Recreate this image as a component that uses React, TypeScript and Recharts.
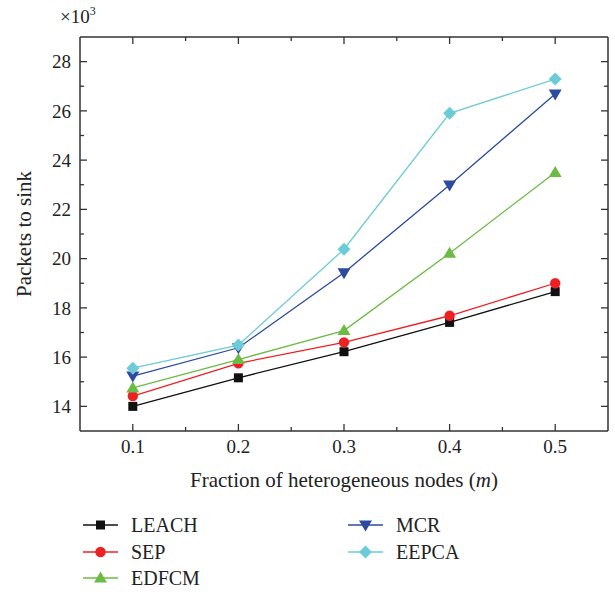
import { LineChart, Line, XAxis, YAxis, ReferenceLine } from "recharts";

// fraction of heterogeneous nodes (m)
const X_VALUES = [0.1, 0.2, 0.3, 0.4, 0.5];
// packets to sink, x10^3
const LEACH = [14.0, 15.16, 16.22, 17.41, 18.66];
const SEP = [14.42, 15.75, 16.6, 17.68, 19.0];
const EDFCM = [14.75, 15.9, 17.08, 20.22, 23.5];
const MCR = [15.23, 16.38, 19.43, 22.99, 26.69];
const EEPCA = [15.55, 16.49, 20.38, 25.9, 27.29];

const X_MAJOR = [0.1, 0.2, 0.3, 0.4, 0.5];
const X_MINOR = [0.15, 0.25, 0.35, 0.45];
const Y_MAJOR = [14, 16, 18, 20, 22, 24, 26, 28];
const Y_MINOR = [15, 17, 19, 21, 23, 25, 27];

const W = 615;
const H = 594;
// axes take 1px each, so plot box is x 80..608, y 37..431
const M = { top: 37, right: 7, bottom: 162, left: 79 };
const PLOT_TOP = M.top;
const PLOT_RIGHT = W - M.right;

const AXIS = "#333";
const FONT = '"Liberation Serif", "DejaVu Serif", serif';

const SERIES = [
  { key: "LEACH", values: LEACH, color: "#111111", shape: "square" },
  { key: "SEP", values: SEP, color: "#ed2024", shape: "circle" },
  { key: "EDFCM", values: EDFCM, color: "#6cbb45", shape: "up" },
  { key: "MCR", values: MCR, color: "#2c4a9e", shape: "down" },
  { key: "EEPCA", values: EEPCA, color: "#6ccbd7", shape: "diamond" },
];

const data = X_VALUES.map((x, i) => {
  const row: Record<string, number> = { x };
  SERIES.forEach((s) => (row[s.key] = s.values[i]));
  return row;
});

function Marker({ shape, cx, cy, color }: { shape: string; cx: number; cy: number; color: string }) {
  if (cx == null || cy == null) return null;
  switch (shape) {
    case "square":
      return <rect x={cx - 4.5} y={cy - 4.5} width={9} height={9} fill={color} />;
    case "circle":
      return <circle cx={cx} cy={cy} r={5.2} fill={color} />;
    case "up":
      return <polygon points={`${cx},${cy - 6.5} ${cx + 6.5},${cy + 4.5} ${cx - 6.5},${cy + 4.5}`} fill={color} />;
    case "down":
      return <polygon points={`${cx - 6.5},${cy - 4.5} ${cx + 6.5},${cy - 4.5} ${cx},${cy + 6.5}`} fill={color} />;
    default:
      return <polygon points={`${cx},${cy - 6.5} ${cx + 6.5},${cy} ${cx},${cy + 6.5} ${cx - 6.5},${cy}`} fill={color} />;
  }
}

function XTick({ x, y, payload }: any) {
  const major = X_MAJOR.includes(payload.value);
  const len = major ? 7 : 4;
  return (
    <g>
      <line x1={x} y1={y} x2={x} y2={y - len} stroke={AXIS} strokeWidth={1.3} />
      <line x1={x} y1={PLOT_TOP} x2={x} y2={PLOT_TOP + len} stroke={AXIS} strokeWidth={1.3} />
      {major && (
        <text x={x} y={y + 22} textAnchor="middle" fontFamily={FONT} fontSize={19} fill="#222">
          {payload.value.toFixed(1)}
        </text>
      )}
    </g>
  );
}

function YTick({ x, y, payload }: any) {
  const major = Y_MAJOR.includes(payload.value);
  const len = major ? 7 : 4;
  return (
    <g>
      <line x1={x} y1={y} x2={x + len} y2={y} stroke={AXIS} strokeWidth={1.3} />
      <line x1={PLOT_RIGHT} y1={y} x2={PLOT_RIGHT - len} y2={y} stroke={AXIS} strokeWidth={1.3} />
      {major && (
        <text x={x - 9} y={y} dy="0.35em" textAnchor="end" fontFamily={FONT} fontSize={19} fill="#222">
          {payload.value}
        </text>
      )}
    </g>
  );
}

function Legend() {
  const cols = [
    { x: 83, items: SERIES.slice(0, 3) },
    { x: 348, items: SERIES.slice(3) },
  ];
  const rows = [525, 552, 578];
  return (
    <g>
      {cols.map((c) =>
        c.items.map((s, i) => (
          <g key={s.key}>
            <line x1={c.x} y1={rows[i]} x2={c.x + 35} y2={rows[i]} stroke={s.color} strokeWidth={1.3} />
            <Marker shape={s.shape} cx={c.x + 17.5} cy={rows[i]} color={s.color} />
            <text x={c.x + 48} y={rows[i]} dy="0.35em" fontFamily={FONT} fontSize={20} fill="#222">
              {s.key}
            </text>
          </g>
        ))
      )}
    </g>
  );
}

export default function App() {
  return (
    <div style={{ position: "absolute", left: 0, top: 0, width: W, height: H, background: "#fff" }}>
      <LineChart width={W} height={H} data={data} margin={M}>
        <XAxis
          dataKey="x"
          type="number"
          domain={[0.05, 0.55]}
          ticks={[...X_MAJOR, ...X_MINOR].sort((a, b) => a - b)}
          interval={0}
          height={1}
          tickSize={0}
          tickMargin={0}
          tickLine={false}
          axisLine={{ stroke: AXIS, strokeWidth: 1.5 }}
          tick={<XTick />}
        />
        <YAxis
          type="number"
          domain={[13, 29]}
          ticks={[...Y_MAJOR, ...Y_MINOR].sort((a, b) => a - b)}
          interval={0}
          width={1}
          tickSize={0}
          tickMargin={0}
          tickLine={false}
          axisLine={{ stroke: AXIS, strokeWidth: 1.5 }}
          tick={<YTick />}
        />
        <ReferenceLine y={29} stroke={AXIS} strokeWidth={1.5} />
        <ReferenceLine x={0.55} stroke={AXIS} strokeWidth={1.5} />
        {SERIES.map((s) => (
          <Line
            key={s.key}
            dataKey={s.key}
            stroke={s.color}
            strokeWidth={1.3}
            isAnimationActive={false}
            dot={(p: any) => <Marker key={`${s.key}-${p.index}`} shape={s.shape} cx={p.cx} cy={p.cy} color={s.color} />}
          />
        ))}
      </LineChart>
      <svg width={W} height={H} style={{ position: "absolute", left: 0, top: 0, pointerEvents: "none" }}>
        <text x={60} y={23} fontFamily={FONT} fontSize={19} fill="#222">
          ×10<tspan dy={-8} fontSize={12}>3</tspan>
        </text>
        <text
          x={0}
          y={0}
          transform={`translate(31, 234) rotate(-90)`}
          textAnchor="middle"
          fontFamily={FONT}
          fontSize={21}
          fill="#222"
        >
          Packets to sink
        </text>
        <text x={344} y={487} textAnchor="middle" fontFamily={FONT} fontSize={21} fill="#222">
          Fraction of heterogeneous nodes (<tspan fontStyle="italic">m</tspan>)
        </text>
        <Legend />
      </svg>
    </div>
  );
}
